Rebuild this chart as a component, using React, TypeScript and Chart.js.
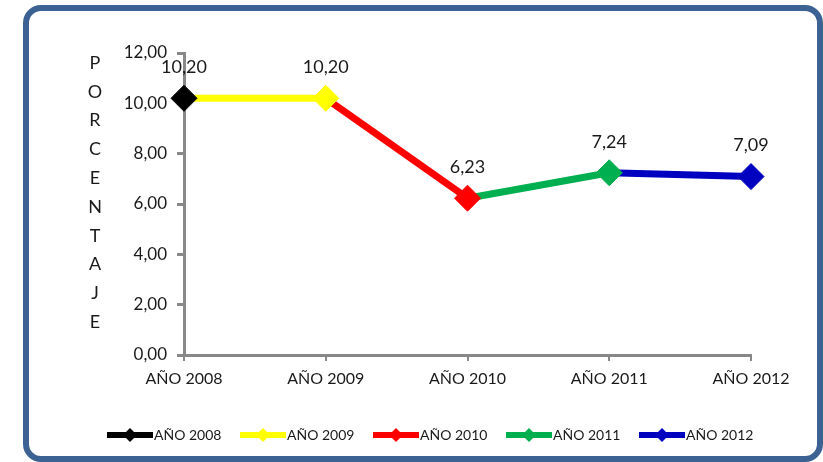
import React, { useEffect, useRef } from 'react';
import { Chart, registerables } from 'chart.js';
Chart.register(...registerables);

const categories = ['AÑO 2008', 'AÑO 2009', 'AÑO 2010', 'AÑO 2011', 'AÑO 2012'];
const values = [10.2, 10.2, 6.23, 7.24, 7.09];
const seriesColors = ['#000000', '#FFFF00', '#FF0000', '#00B050', '#0000C0'];
const yTicks = [0, 2, 4, 6, 8, 10, 12];
const axisTitle = 'PORCENTAJE';

const FONT = 'Lato';
const fmt = (v: number) => v.toFixed(2).replace('.', ',');

const extrasPlugin = {
  id: 'extras',
  afterDatasetsDraw(chart: any) {
    const ctx = chart.ctx;
    const xs = chart.scales.x;
    const ys = chart.scales.y;
    ctx.save();
    // data labels
    ctx.fillStyle = '#1a1a1a';
    ctx.font = `18px ${FONT}`;
    ctx.textAlign = 'center';
    ctx.textBaseline = 'middle';
    values.forEach((v, i) => {
      const x = xs.getPixelForValue(i);
      const y = ys.getPixelForValue(v);
      ctx.fillText(fmt(v), x, y - 31);
    });
    // vertical axis title
    ctx.font = `18px ${FONT}`;
    const letters = axisTitle.split('');
    letters.forEach((ch, i) => {
      ctx.fillText(ch, 95, 63 + i * 28.8);
    });
    // legend
    const ly = 435;
    categories.forEach((name, i) => {
      const x0 = 107 + i * 133;
      ctx.strokeStyle = seriesColors[i];
      ctx.lineWidth = 6;
      ctx.beginPath();
      ctx.moveTo(x0, ly);
      ctx.lineTo(x0 + 46, ly);
      ctx.stroke();
      ctx.fillStyle = seriesColors[i];
      const cx = x0 + 23;
      const r = 7;
      ctx.beginPath();
      ctx.moveTo(cx, ly - r);
      ctx.lineTo(cx + r, ly);
      ctx.lineTo(cx, ly + r);
      ctx.lineTo(cx - r, ly);
      ctx.closePath();
      ctx.fill();
      ctx.fillStyle = '#1a1a1a';
      ctx.font = `14px ${FONT}`;
      ctx.textAlign = 'left';
      ctx.fillText(name, x0 + 47, ly);
    });
    ctx.restore();
  },
};

export default function App() {
  const ref = useRef<HTMLCanvasElement | null>(null);
  useEffect(() => {
    if (!ref.current) return;
    const datasets = categories.map((name, i) => {
      const data = values.map((v, j) => (j === i || j === i - 1 ? v : null));
      const radius = values.map((_, j) => (j === i ? 13 : 0));
      return {
        label: name,
        data,
        borderColor: seriesColors[i],
        backgroundColor: seriesColors[i],
        pointBackgroundColor: seriesColors[i],
        pointBorderColor: seriesColors[i],
        borderWidth: 7,
        pointStyle: 'rectRot',
        pointRadius: radius,
        pointHoverRadius: radius,
        pointBorderWidth: 1,
        spanGaps: false,
        tension: 0,
      };
    });
    const chart = new Chart(ref.current, {
      type: 'line',
      data: { labels: categories, datasets: datasets as any },
      options: {
        responsive: false,
        animation: false,
        layout: { padding: { left: 0, right: 72, top: 53, bottom: 77 } },
        plugins: { legend: { display: false }, tooltip: { enabled: false } },
        scales: {
          x: {
            offset: false,
            grid: { drawOnChartArea: false, drawTicks: true, tickLength: 6, color: '#888888', lineWidth: 2 },
            border: { color: '#888888', width: 3 },
            ticks: { color: '#1a1a1a', font: { family: FONT, size: 16 }, padding: 8, maxRotation: 0, autoSkip: false },
            afterFit: (s: any) => { s.height = 30; },
          },
          y: {
            min: 0,
            max: 12,
            afterBuildTicks: (s: any) => { s.ticks = yTicks.map((v) => ({ value: v })); },
            grid: { drawOnChartArea: false, drawTicks: true, tickLength: 7, color: '#888888', lineWidth: 3 },
            border: { color: '#888888', width: 3 },
            ticks: { color: '#1a1a1a', font: { family: FONT, size: 17 }, padding: 10, callback: (v: any) => fmt(Number(v)) },
            afterFit: (s: any) => { s.width = 184; },
          },
        },
      },
      plugins: [extrasPlugin],
    });
    return () => chart.destroy();
  }, []);
  return (
    <div style={{ position: 'fixed', left: 0, top: 0, width: 823, height: 462, background: '#fff' }}>
      <div
        style={{
          position: 'absolute', left: 23, top: 5, width: 800, height: 457,
          border: '6px solid #3B6292', borderRadius: 18, boxSizing: 'border-box',
        }}
      />
      <canvas ref={ref} width={823} height={462} style={{ position: 'absolute', left: 0, top: 0 }} />
    </div>
  );
}
